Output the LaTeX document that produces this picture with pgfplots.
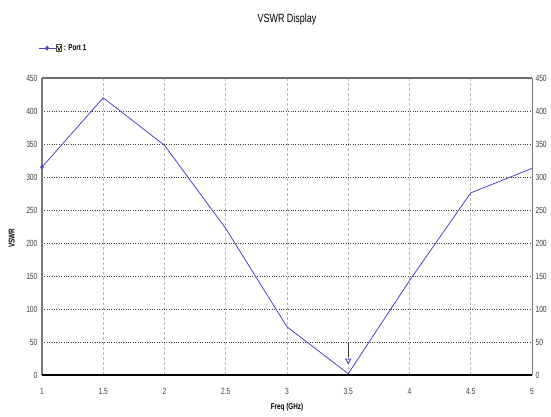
\documentclass[border=0pt]{standalone}
\usepackage{pgfplots}
\pgfplotsset{compat=1.18}
\usepackage{fontspec}
\setmainfont{Liberation Sans}
\newfontfamily\narrow[FakeStretch=0.75]{Liberation Sans}
\definecolor{vline}{RGB}{76,70,200}
\definecolor{axgray}{RGB}{120,120,120}
\begin{document}
\begin{tikzpicture}
\useasboundingbox (-42bp,-42bp) rectangle (509bp,375bp);
\begin{axis}[
  at={(0,0)}, anchor=south west, scale only axis,
  width=490bp, height=297bp,
  xmin=1, xmax=5, ymin=0, ymax=450,
  xtick={1,1.5,2,2.5,3,3.5,4,4.5,5},
  xticklabels={1,1.5,2,2.5,3,3.5,4,4.5,5},
  ytick={0,50,100,150,200,250,300,350,400,450},
  yticklabels={0,50,100,150,200,250,300,350,400,450},
  major tick length=0pt,
  tick label style={font=\narrow\fontsize{9}{10}\selectfont, text=black!75},
  /pgf/number format/assume math mode=true,
  xticklabel style={yshift=-10bp},
  yticklabel style={xshift=-1bp},
  grid=major,
  x grid style={densely dashed, gray!55, line width=0.7pt},
  y grid style={dotted, black!75, line width=0.7pt},
  axis line style={draw=none},
  clip=false,
  xlabel={Freq (GHz)},
  xlabel style={font=\narrow\fontsize{8.5}{9}\selectfont\bfseries, at={(axis description cs:0.5,0)}, anchor=center, yshift=-32bp},
  ylabel={VSWR},
  ylabel style={font=\narrow\fontsize{8.5}{9}\selectfont\bfseries, at={(axis description cs:-0.062,0.46)}, anchor=center},
  legend style={at={(rel axis cs:0,1)}, anchor=south west, xshift=-4bp, yshift=24bp, draw=none, fill=none,
    font=\narrow\fontsize{8.5}{9}\selectfont\bfseries, inner sep=0pt, column sep=0pt},
  legend cell align=left,
  legend image code/.code={
    \draw[vline, line width=0.8pt] (0bp,0bp) -- (17bp,0bp);
    \fill[vline] (8.5bp,2bp) -- (10bp,0bp) -- (8.5bp,-2bp) -- (7bp,0bp) -- cycle;
    \draw[black!70, fill=yellow!15, line width=0.5pt] (18bp,-3.5bp) rectangle (23bp,3.5bp);
    \draw[black, line width=0.7pt] (18.8bp,2bp) -- (20.5bp,-2.5bp) -- (22.2bp,2bp);
  },
]
\addplot[vline, line width=0.8pt, mark=diamond*, mark size=1.8pt, mark indices={1}, mark options={fill=vline}]
  coordinates {(1,315) (1.5,420) (2,348) (2.5,222) (3,73) (3.5,2) (4,143) (4.5,276) (5,313)};
\addlegendentry{: Port 1}
\addplot[black!80, line width=1.1pt, forget plot] coordinates {(3.5,28) (3.5,50)};
\addplot[only marks, mark=triangle, mark size=3pt, mark options={rotate=180, draw=vline, fill=white, line width=0.9pt}, forget plot]
  coordinates {(3.5,22)};
% frame
\draw[axgray, line width=1.6pt] (rel axis cs:0,0) -- (rel axis cs:0,1);
\draw[axgray!90!black, line width=2pt] (rel axis cs:0,1) -- (rel axis cs:1,1);
\draw[axgray, line width=0.8pt] (rel axis cs:1,0) -- (rel axis cs:1,1);
\draw[black, line width=1.6pt] (rel axis cs:0,0) -- (rel axis cs:1,0);
\node[font=\narrow\fontsize{12}{13}\selectfont] at (rel axis cs:0.5,1) [yshift=59bp] {VSWR Display};
\end{axis}
\begin{axis}[
  at={(0,0)}, anchor=south west, scale only axis,
  width=490bp, height=297bp,
  xmin=1, xmax=5, ymin=0, ymax=450,
  hide x axis,
  axis y line*=right,
  axis line style={draw=none},
  ytick={0,50,100,150,200,250,300,350,400,450},
  yticklabels={0,50,100,150,200,250,300,350,400,450},
  major tick length=0pt,
  tick label style={font=\narrow\fontsize{9}{10}\selectfont, text=black!75},
  /pgf/number format/assume math mode=true,
]
\addplot[draw=none, forget plot] coordinates {(1,0) (5,450)};
\end{axis}
\end{tikzpicture}
\end{document}
